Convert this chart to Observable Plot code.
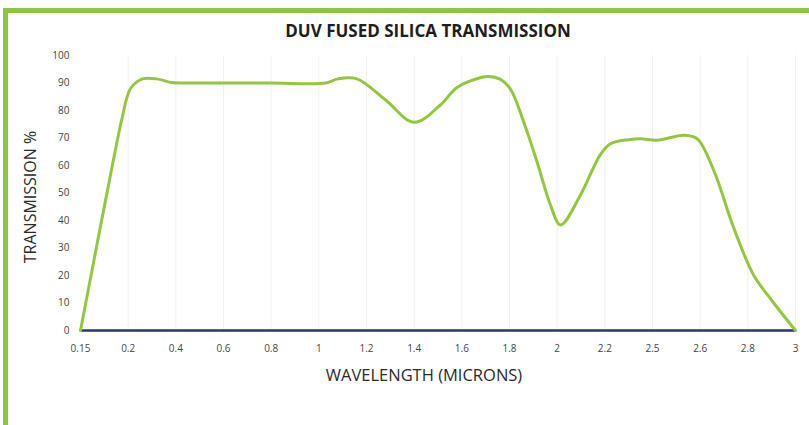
<!DOCTYPE html>
<html><head><meta charset="utf-8">
<script src="https://cdn.jsdelivr.net/npm/d3@7"></script>
<script src="https://cdn.jsdelivr.net/npm/@observablehq/plot@0.6"></script>
<style>
html,body{margin:0;padding:0;background:#fff;width:809px;height:425px;overflow:hidden;font-family:"Open Sans",sans-serif;}
#frame{position:absolute;left:3px;top:8px;width:900px;height:500px;border-left:5px solid #8cc63f;border-top:5px solid #8cc63f;box-sizing:border-box;}
#title{position:absolute;left:0;width:856px;top:21px;text-align:center;font-weight:700;font-size:17px;line-height:20px;color:#1e1e1e;white-space:nowrap;}
#ylab{position:absolute;left:-70px;top:187px;width:200px;height:20px;line-height:20px;text-align:center;font-size:16px;color:#2a2a2a;transform:rotate(-90deg);transform-origin:center;white-space:nowrap;}
#xlab{position:absolute;left:224px;top:365px;width:400px;line-height:20px;text-align:center;font-size:16.5px;color:#2a2a2a;white-space:nowrap;}
#chart{position:absolute;left:0;top:40px;}
</style></head>
<body>
<div id="frame"></div>
<div id="chart"></div>
<div id="title">DUV FUSED SILICA TRANSMISSION</div>
<div id="ylab">TRANSMISSION %</div>
<div id="xlab">WAVELENGTH (MICRONS)</div>
<script>
// Category tick labels along the x axis (evenly spaced)
const wavelengthLabels = ["0.15","0.2","0.4","0.6","0.8","1","1.2","1.4","1.6","1.8","2","2.2","2.5","2.6","2.8","3"];
const yTicks = [0,10,20,30,40,50,60,70,80,90,100];

// Curve samples: position in category-index units, transmission %
const sampleIndex = [0, 0.69, 0.87, 1.05, 1.3, 1.6, 1.9, 2.2, 3, 4, 5.15, 5.4, 5.8, 6.4, 7, 7.55, 7.9, 8.4, 8.55, 8.8, 9.02, 9.3, 9.58, 9.86, 10.07, 10.49, 10.9, 11.12, 11.5, 11.75, 12.1, 12.66, 12.94, 13.29, 13.7, 14.12, 14.5, 15];
const transmission = [0, 62, 77, 88, 91.5, 91.5, 90.2, 90, 90, 90, 90, 91.5, 91.5, 83.8, 75.7, 82, 88.4, 92, 92.4, 91.4, 87.8, 75.7, 61.2, 45.6, 38.4, 49.3, 63.8, 67.9, 69.4, 69.7, 69.2, 71, 69.7, 58, 37.5, 20.2, 11, 0];

const tickIndex = wavelengthLabels.map((_, i) => i);
const data = sampleIndex.map((x, i) => ({x, y: transmission[i]}));

const chart = Plot.plot({
  width: 809,
  height: 385,
  marginTop: 15,
  marginBottom: 95,
  marginLeft: 80,
  marginRight: 14,
  style: {fontFamily: "Open Sans, sans-serif", fontSize: "10px", color: "#444", background: "transparent", overflow: "visible"},
  x: {domain: [0, wavelengthLabels.length - 1], ticks: tickIndex, tickFormat: i => wavelengthLabels[i], tickSize: 0, tickPadding: 14, label: null},
  y: {domain: [0, 100], ticks: yTicks, tickSize: 0, tickPadding: 11, label: null},
  marks: [
    Plot.ruleX(tickIndex.slice(1), {stroke: "#eef0f2", strokeWidth: 1, y1: 0, y2: 100}),
    Plot.ruleY([0], {stroke: "#2e3568", strokeWidth: 2.5}),
    Plot.line(data, {x: "x", y: "y", stroke: "#93c83e", strokeWidth: 3, curve: "catmull-rom"})
  ]
});
document.getElementById("chart").appendChild(chart);
</script>
</body></html>
